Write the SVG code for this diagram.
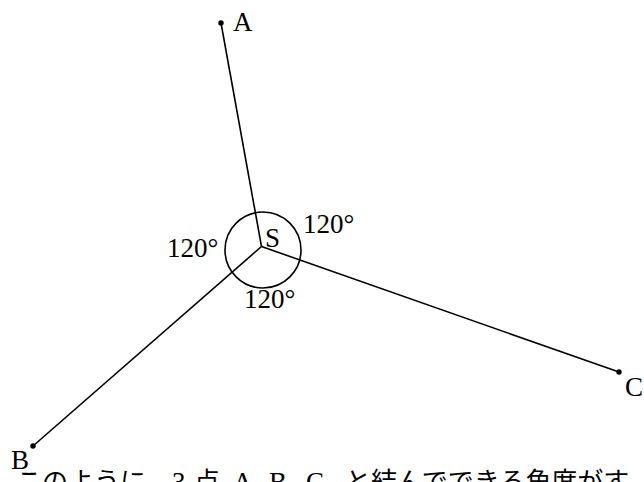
<svg xmlns="http://www.w3.org/2000/svg" width="644" height="482" viewBox="0 0 644 482">
<style>
.ln{stroke:#000;stroke-width:1.6;fill:none}
.dot{fill:#000}
.lbl{font-family:"Liberation Serif","DejaVu Serif",serif;font-size:27px;fill:#000}
.jp{font-family:"Noto Sans CJK JP","Noto Sans",sans-serif;font-size:26px;fill:#000}
</style>
<rect width="644" height="482" fill="#fff"/>
<g id="connectors">
<line class="ln" x1="221" y1="23" x2="261.5" y2="246.5"/>
<line class="ln" x1="33" y1="446" x2="261.5" y2="246.5"/>
<line class="ln" x1="619" y1="372" x2="261.5" y2="246.5"/>
<circle class="ln" cx="263" cy="250" r="38"/>
</g>
<g id="A"><circle class="dot" cx="221" cy="23" r="2.7"/><text class="lbl" x="233" y="31">A</text></g>
<g id="B"><circle class="dot" cx="33" cy="446" r="2.7"/><text class="lbl" x="11" y="469">B</text></g>
<g id="C"><circle class="dot" cx="619" cy="372" r="2.7"/><text class="lbl" x="625" y="396">C</text></g>
<g id="S"><text class="lbl" x="265" y="247">S</text></g>
<g id="angles">
<text class="lbl" x="303" y="233">120°</text>
<text class="lbl" x="167" y="257">120°</text>
<text class="lbl" x="244" y="308">120°</text>
</g>
<g id="caption">
<text class="jp" x="16" y="491">このように，</text>
<text class="lbl" x="172" y="491">3</text>
<text class="jp" x="194" y="491">点</text>
<text class="lbl" x="233" y="491">A,</text>
<text class="lbl" x="269" y="491">B,</text>
<text class="lbl" x="306" y="491">C</text>
<text class="jp" x="345" y="491">と結んでできる角度がす</text>
</g>
</svg>
